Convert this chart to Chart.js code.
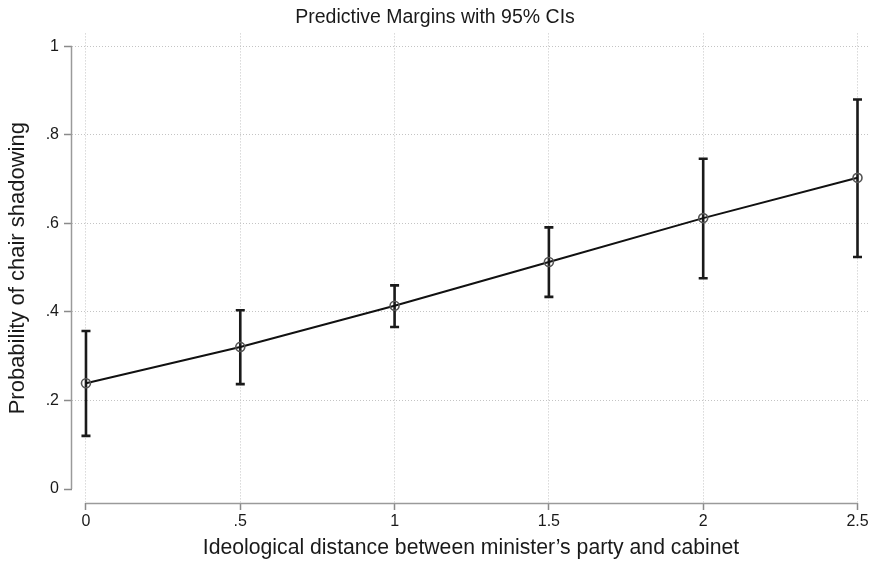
<!DOCTYPE html>
<html>
<head>
<meta charset="utf-8">
<script src="https://cdn.jsdelivr.net/npm/chart.js@4.4.1/dist/chart.umd.min.js"></script>
<style>
  html, body { margin: 0; padding: 0; background: #fff; }
  #wrap { width: 870px; height: 561px; }
</style>
</head>
<body>
<div id="wrap"><canvas id="marginsChart"></canvas></div>
<script>
// ideological distance (x) and predicted probability with 95% CI
var distance = [0, 0.5, 1, 1.5, 2, 2.5];
var margin   = [0.239, 0.321, 0.414, 0.513, 0.612, 0.703];
var ciLow    = [0.120, 0.237, 0.366, 0.434, 0.476, 0.524];
var ciHigh   = [0.357, 0.404, 0.460, 0.591, 0.746, 0.880];

var xTicks = [0, 0.5, 1, 1.5, 2, 2.5];
var xTickLabels = ['0', '.5', '1', '1.5', '2', '2.5'];
var yTicks = [0, 0.2, 0.4, 0.6, 0.8, 1];
var yTickLabels = ['0', '.2', '.4', '.6', '.8', '1'];

var FONT = "'Liberation Sans', Arial, Helvetica, sans-serif";

// error bars + stata-like axis lines
var ciPlugin = {
    id: 'ciBars',
    beforeDatasetsDraw: function (chart) {
        var ctx = chart.ctx;
        var xs = chart.scales.x, ys = chart.scales.y;
        ctx.save();
        ctx.strokeStyle = '#1a1a1a';
        ctx.lineWidth = 2.6;
        for (var i = 0; i < distance.length; i++) {
            var px = xs.getPixelForValue(distance[i]);
            var top = ys.getPixelForValue(ciHigh[i]);
            var bot = ys.getPixelForValue(ciLow[i]);
            ctx.beginPath();
            ctx.moveTo(px, top); ctx.lineTo(px, bot);
            ctx.moveTo(px - 4.5, top); ctx.lineTo(px + 4.5, top);
            ctx.moveTo(px - 4.5, bot); ctx.lineTo(px + 4.5, bot);
            ctx.stroke();
        }
        ctx.restore();
    },
    afterDraw: function (chart) {
        var ctx = chart.ctx;
        var xs = chart.scales.x, ys = chart.scales.y;
        var area = chart.chartArea;
        ctx.save();
        ctx.strokeStyle = '#9a9a9a';
        ctx.lineWidth = 1.5;
        ctx.beginPath();
        ctx.moveTo(area.left - 0.5, ys.getPixelForValue(yTicks[0]));
        ctx.lineTo(area.left - 0.5, ys.getPixelForValue(yTicks[yTicks.length - 1]));
        ctx.moveTo(xs.getPixelForValue(xTicks[0]), area.bottom + 0.5);
        ctx.lineTo(xs.getPixelForValue(xTicks[xTicks.length - 1]), area.bottom + 0.5);
        ctx.stroke();
        ctx.restore();
    }
};

new Chart(document.getElementById('marginsChart'), {
    type: 'line',
    data: {
        datasets: [
            {
                label: 'Predictive margin',
                data: distance.map(function (d, i) { return {x: d, y: margin[i]}; }),
                borderColor: '#111',
                borderWidth: 2,
                pointRadius: 4.5,
                pointBorderWidth: 1.6,
                pointBorderColor: '#555',
                pointBackgroundColor: 'rgba(255,255,255,0)',
                fill: false,
                tension: 0
            }
        ]
    },
    options: {
        responsive: true,
        maintainAspectRatio: false,
        animation: false,
        layout: {padding: 0, autoPadding: false},
        plugins: {
            legend: {display: false},
            tooltip: {enabled: false},
            title: {
                display: true,
                text: 'Predictive Margins with 95% CIs',
                color: '#1a1a1a',
                font: {family: FONT, size: 19.5, weight: 'normal'},
                padding: {top: 6, bottom: 4}
            }
        },
        scales: {
            x: {
                type: 'linear',
                min: -0.0453,
                max: 2.5405,
                afterBuildTicks: function (scale) {
                    scale.ticks = xTicks.map(function (v) { return {value: v}; });
                },
                afterFit: function (scale) { scale.height = 58; },
                ticks: {
                    color: '#1a1a1a',
                    font: {family: FONT, size: 16, lineHeight: 1.45},
                    padding: 0,
                    maxRotation: 0,
                    callback: function (v) { return xTickLabels[xTicks.indexOf(v)]; }
                },
                grid: {
                    color: '#c4c4c4',
                    lineWidth: 1,
                    tickColor: '#8a8a8a',
                    tickLength: 7,
                    tickWidth: 1.5
                },
                border: {display: false, dash: [1, 2]},
                title: {
                    display: true,
                    text: 'Ideological distance between minister\u2019s party and cabinet',
                    color: '#1a1a1a',
                    font: {family: FONT, size: 21.2},
                    padding: {top: 0, bottom: 0}
                }
            },
            y: {
                type: 'linear',
                min: -0.0316,
                max: 1.0293,
                afterBuildTicks: function (scale) {
                    scale.ticks = yTicks.map(function (v) { return {value: v}; });
                },
                afterFit: function (scale) { scale.width = 72; },
                ticks: {
                    color: '#1a1a1a',
                    font: {family: FONT, size: 16},
                    padding: 5,
                    callback: function (v) { return yTickLabels[yTicks.indexOf(v)]; }
                },
                grid: {
                    color: function (c) { return c.tick && c.tick.value === 0 ? 'rgba(0,0,0,0)' : '#c4c4c4'; },
                    lineWidth: 1,
                    tickColor: '#8a8a8a',
                    tickLength: 8,
                    tickWidth: 1.5
                },
                border: {display: false, dash: [1, 2]},
                title: {
                    display: true,
                    text: 'Probability of chair shadowing',
                    color: '#1a1a1a',
                    font: {family: FONT, size: 22},
                    padding: {top: 5, bottom: 0}
                }
            }
        }
    },
    plugins: [ciPlugin]
});
</script>
</body>
</html>
